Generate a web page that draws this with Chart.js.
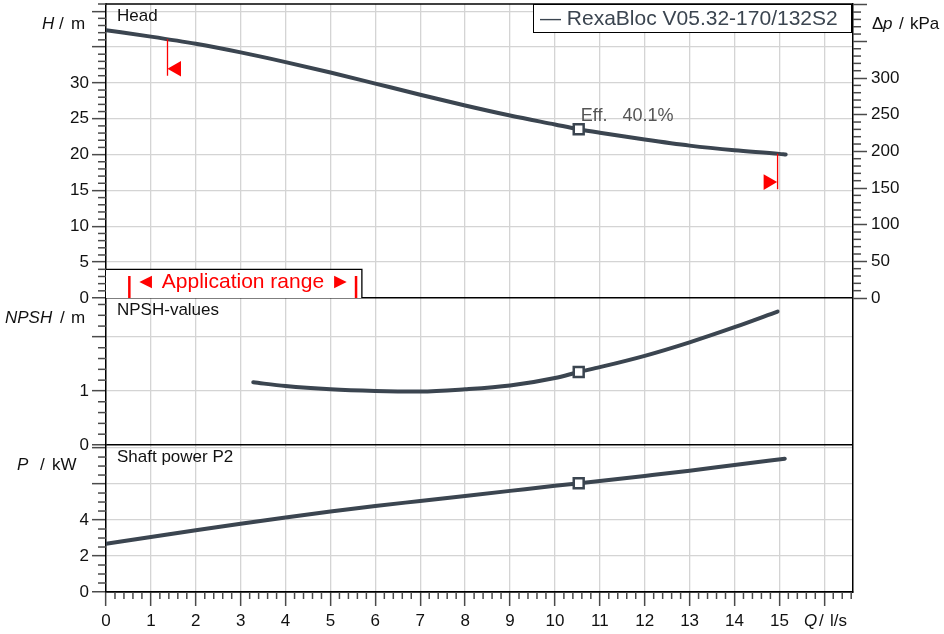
<!DOCTYPE html>
<html>
<head>
<meta charset="utf-8">
<script src="https://cdn.jsdelivr.net/npm/chart.js@4.4.1/dist/chart.umd.min.js"></script>
<style>
  html, body { margin: 0; padding: 0; background: #fff; }
  #wrap { width: 944px; height: 634px; }
</style>
</head>
<body>
<div id="wrap"><canvas id="pumpChart" width="944" height="634"></canvas></div>
<script>
// ---- pump curves ----
const headQ = [0, 1, 2, 3, 4, 5, 6, 7, 8, 9, 10, 10.53, 11, 12, 13, 14, 15, 15.14];
const headH = [37.35, 36.45, 35.45, 34.25, 32.9, 31.45, 29.9, 28.35, 26.85, 25.45, 24.2, 23.54, 23.05, 22.1, 21.25, 20.6, 20.1, 20.0];

const npshQ = [3.28, 4, 5, 6, 7, 8, 9, 10, 10.53, 11, 12, 13, 14, 14.96];
const npshVal = [1.16, 1.09, 1.03, 1.0, 0.99, 1.03, 1.1, 1.24, 1.35, 1.44, 1.65, 1.9, 2.18, 2.47];

const powerQ = [0, 1, 2, 3, 4, 5, 6, 7, 8, 9, 10, 11, 12, 13, 14, 15.12];
const powerVal = [2.68, 3.06, 3.43, 3.79, 4.14, 4.47, 4.78, 5.06, 5.34, 5.62, 5.9, 6.17, 6.45, 6.74, 7.06, 7.41];

// best efficiency point
const bepQ = 10.53;
const bepHead = 23.54, bepNpsh = 1.35, bepPower = 6.04;
const bepLabel = 'Eff.   40.1%';

// application range limits (red marks on the head curve)
const limitLeftQ = [1.37, 1.37], limitLeftH = [36.1, 30.98];
const limitRightQ = [14.96, 14.96], limitRightH = [20.1, 15.17];
const arrowQ = [1.57, 14.75], arrowH = [31.98, 16.16], arrowRot = [-90, 90];

// major tick positions (grid lines) and the ones that get a label
const qGrid = [0, 1, 2, 3, 4, 5, 6, 7, 8, 9, 10, 11, 12, 13, 14, 15, 16];
const qTicks = [0, 1, 2, 3, 4, 5, 6, 7, 8, 9, 10, 11, 12, 13, 14, 15];
const headGrid = [0, 5, 10, 15, 20, 25, 30, 35, 40];
const headTicks = [0, 5, 10, 15, 20, 25, 30];
const npshGrid = [0, 1, 2];
const npshTicks = [0, 1];
const powerGrid = [0, 2, 4, 6, 8];
const powerTicks = [0, 2, 4];
const dpGrid = [0, 50, 100, 150, 200, 250, 300, 350, 400];
const dpTicks = [0, 50, 100, 150, 200, 250, 300];

const pumpName = 'RexaBloc V05.32-170/132S2';

// ---- styles ----
const curveCol = '#3b4550';
const gridGrey = '#d4d4d4';
const tickGrey = '#4a4a4a';
const FONT = '"Liberation Sans", Arial, sans-serif';

Chart.defaults.font.family = FONT;
Chart.defaults.font.size = 17;
Chart.defaults.color = '#111';

const pts = (xs, ys) => xs.map((q, i) => ({ x: q, y: ys[i] }));

function curve(data, yAxisID) {
    return { data, yAxisID, xAxisID: 'x', borderColor: curveCol, borderWidth: 4, pointRadius: 0,
        borderCapStyle: 'round', cubicInterpolationMode: 'monotone', order: 2 };
}
function bep(y, yAxisID) {
    return { data: [{ x: bepQ, y }], yAxisID, xAxisID: 'x', showLine: false, pointStyle: 'rect',
        pointRadius: 7, pointBorderWidth: 2.5, pointBorderColor: curveCol, pointBackgroundColor: '#fff', order: 0 };
}
function redLine(xs, ys) {
    return { data: pts(xs, ys), yAxisID: 'yH', xAxisID: 'x', borderColor: '#ff0000', borderWidth: 1.3,
        pointRadius: 0, order: 1 };
}

// fixed axis boxes so the plot area sits where the datasheet has it
function fixBox(size, vertical) {
    return s => {
        if (vertical) s.width = size; else s.height = size;
        s.paddingTop = 0; s.paddingBottom = 0; s.paddingLeft = 0; s.paddingRight = 0;
    };
}
const setTicks = vals => s => { s.ticks = vals.map(v => ({ value: v })); };

function yPanel(max, grid, labels, stackWeight, layoutWeight) {
    return {
        type: 'linear', position: 'left', stack: 'panels', stackWeight, weight: layoutWeight,
        min: 0, max,
        afterFit: fixBox(106, true),
        afterBuildTicks: setTicks(grid),
        border: { color: '#000', width: 1.5 },
        grid: {
            color: c => (c.tick && c.tick.value === 0) ? '#000' : gridGrey,
            lineWidth: c => (c.tick && c.tick.value === 0) ? 1.5 : 1.3,
            tickLength: 14, tickColor: tickGrey, tickWidth: 1.5
        },
        ticks: { autoSkip: false, padding: 3,
            callback: v => labels.includes(v) ? String(v) : '' }
    };
}

// minor tick marks between the major ones: [minor step, major step]
const minorSteps = { x: [0.2, 1], yH: [1, 5], yN: [0.2, 1], yP: [0.5, 2], dp: [10, 50] };
const minorTicks = {
    id: 'minorTicks',
    afterDraw(chart) {
        const ctx = chart.ctx;
        ctx.save();
        ctx.strokeStyle = tickGrey;
        ctx.lineWidth = 1.5;
        Object.entries(minorSteps).forEach(([id, [step, major]]) => {
            const s = chart.scales[id];
            const lo = s.min < 0 ? 0 : s.min;
            const n = Math.floor((s.max - lo) / step + 1e-6);
            for (let i = 0; i <= n; i++) {
                const v = lo + i * step;
                if (Math.abs(v / major - Math.round(v / major)) < 1e-6) continue;
                const p = s.getPixelForValue(v);
                ctx.beginPath();
                if (s.isHorizontal()) { ctx.moveTo(p, s.top); ctx.lineTo(p, s.top + 7); }
                else if (s.position === 'left') { ctx.moveTo(s.right, p); ctx.lineTo(s.right - 8, p); }
                else { ctx.moveTo(s.left, p); ctx.lineTo(s.left + 8, p); }
                ctx.stroke();
            }
        });
        ctx.restore();
    }
};

function drawParts(ctx, parts, y) {
    // parts: [text, x, italic]
    parts.forEach(([t, x, it]) => {
        ctx.font = (it ? 'italic ' : '') + '17px ' + FONT;
        ctx.fillText(t, x, y);
    });
}

// titles, legend box, application range box, efficiency label
const annotations = {
    id: 'annotations',
    afterDatasetsDraw(chart) {
        const { ctx, chartArea: ca, scales } = chart;
        const { x, yH, yN, yP } = scales;
        ctx.save();

        // top frame line
        ctx.strokeStyle = '#000'; ctx.lineWidth = 1.5;
        ctx.beginPath(); ctx.moveTo(ca.left, ca.top); ctx.lineTo(ca.right, ca.top); ctx.stroke();

        // panel titles
        ctx.fillStyle = '#111';
        ctx.textBaseline = 'middle';
        ctx.textAlign = 'left';
        ctx.font = '17px ' + FONT;
        ctx.fillText('Head', ca.left + 11, yH.top + 12);
        ctx.fillText('NPSH-values', ca.left + 11, yN.top + 12);
        ctx.fillText('Shaft power P2', ca.left + 11, yP.top + 12);

        // axis titles
        drawParts(ctx, [['H', 42, true], ['/', 59, false], ['m', 71, false]], yH.top + 20);
        drawParts(ctx, [['NPSH', 5, true], ['/', 60, false], ['m', 71, false]], yN.top + 20);
        drawParts(ctx, [['P', 17, true], ['/', 40, false], ['kW', 52, false]], yP.top + 20);
        drawParts(ctx, [['\u0394', 872, false], ['p', 883, true], ['/', 899, false], ['kPa', 910, false]], yH.top + 20);
        drawParts(ctx, [['Q', 804, true], ['/', 819, false], ['l/s', 830, false]], x.top + 29);

        // legend box
        const lx0 = 533, lx1 = ca.right - 2;
        ctx.fillStyle = '#fff';
        ctx.fillRect(lx0, ca.top, lx1 - lx0, 28);
        ctx.strokeStyle = '#000'; ctx.lineWidth = 1;
        ctx.strokeRect(lx0 + 0.5, ca.top + 0.5, lx1 - lx0, 28);
        ctx.fillStyle = curveCol;
        ctx.font = '21px ' + FONT;
        ctx.fillText('\u2014 ' + pumpName, lx0 + 7, ca.top + 15);

        // application range box
        const bx1 = x.getPixelForValue(5.7), by0 = yH.getPixelForValue(4.0), by1 = yH.getPixelForValue(0);
        ctx.fillStyle = '#fff';
        ctx.fillRect(ca.left, by0, bx1 - ca.left, by1 - by0);
        ctx.strokeStyle = '#000'; ctx.lineWidth = 1.3;
        ctx.beginPath();
        ctx.moveTo(ca.left, by0); ctx.lineTo(bx1, by0); ctx.lineTo(bx1, by1);
        ctx.stroke();
        ctx.strokeStyle = '#ff0000'; ctx.lineWidth = 2.5;
        [0.52, 5.57].forEach(q => {
            const px = x.getPixelForValue(q);
            ctx.beginPath(); ctx.moveTo(px, yH.getPixelForValue(3.07)); ctx.lineTo(px, by1); ctx.stroke();
        });
        ctx.fillStyle = '#ff0000';
        ctx.font = '21px ' + FONT;
        ctx.textAlign = 'center';
        ctx.fillText('\u25C4 Application range \u25BA', x.getPixelForValue(3.05), yH.getPixelForValue(2.27));

        // efficiency label at the duty point
        ctx.textAlign = 'left';
        ctx.fillStyle = '#555';
        ctx.font = '18px ' + FONT;
        ctx.fillText(bepLabel, x.getPixelForValue(bepQ) + 2, yH.getPixelForValue(bepHead) - 13);

        ctx.restore();
    }
};

new Chart(document.getElementById('pumpChart'), {
    type: 'line',
    data: {
        datasets: [
            curve(pts(headQ, headH), 'yH'),
            curve(pts(npshQ, npshVal), 'yN'),
            curve(pts(powerQ, powerVal), 'yP'),
            bep(bepHead, 'yH'),
            bep(bepNpsh, 'yN'),
            bep(bepPower, 'yP'),
            redLine(limitLeftQ, limitLeftH),
            redLine(limitRightQ, limitRightH),
            { data: pts(arrowQ, arrowH), yAxisID: 'yH', xAxisID: 'x', showLine: false, pointStyle: 'triangle',
              pointRotation: arrowRot, pointRadius: 9, pointBackgroundColor: '#ff0000', pointBorderWidth: 0, order: 1 }
        ]
    },
    options: {
        responsive: false,
        animation: false,
        events: [],
        layout: { autoPadding: false, padding: { top: 4, left: 0, right: 0, bottom: 0 } },
        plugins: { legend: { display: false }, tooltip: { enabled: false } },
        scales: {
            x: {
                type: 'linear', position: 'bottom', min: 0, max: 16.64,
                afterFit: fixBox(42, false),
                afterBuildTicks: setTicks(qGrid),
                border: { color: '#000', width: 1.5 },
                grid: { color: gridGrey, lineWidth: 1.3, tickLength: 14, tickColor: tickGrey, tickWidth: 1.5 },
                ticks: { autoSkip: false, maxRotation: 0, padding: 5,
                    callback: v => qTicks.includes(v) ? String(v) : '' }
            },
            yH: yPanel(41.0, headGrid, headTicks, 294, 3),
            yN: yPanel(2.72, npshGrid, npshTicks, 147, 2),
            yP: yPanel(8.17, powerGrid, powerTicks, 147, 1),
            dp: {
                type: 'linear', position: 'right', min: -401, max: 401,
                afterFit: fixBox(91, true),
                afterBuildTicks: setTicks(dpGrid),
                border: { color: '#000', width: 1.5 },
                grid: { drawOnChartArea: false, tickLength: 14, tickWidth: 1.5, tickColor: tickGrey },
                ticks: { autoSkip: false, padding: 4,
                    callback: v => dpTicks.includes(v) ? String(v) : '' }
            }
        }
    },
    plugins: [minorTicks, annotations]
});
</script>
</body>
</html>
